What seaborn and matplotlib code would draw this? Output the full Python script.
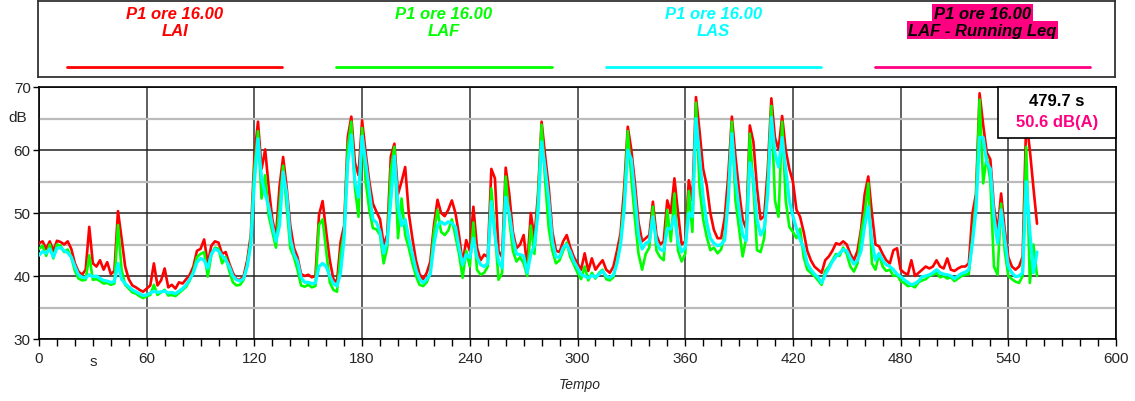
import numpy as np
import pandas as pd
import seaborn as sns
import matplotlib.pyplot as plt
from matplotlib.patches import Rectangle
from matplotlib import transforms

# sample time in seconds (every 2 s)
tempo = np.arange(0, 558, 2)

# LAI (red)
lai = [45.2, 45.5, 44.3, 45.5, 44.0, 45.6, 45.4, 45.0, 45.5, 44.3,
       42.0, 40.7, 40.2, 41.0, 47.8, 42.0, 41.5, 42.5, 41.0, 42.2,
       40.3, 40.8, 50.3, 46.0, 41.5, 39.5, 38.5, 38.2, 37.8, 37.5,
       38.0, 38.5, 42.0, 38.5, 39.3, 41.2, 38.2, 38.6, 38.0, 39.0,
       38.8, 39.5, 40.2, 41.5, 44.0, 44.3, 45.8, 42.0, 44.8, 45.5,
       45.3, 43.5, 43.8, 42.0, 40.5, 39.5, 39.4, 40.0, 42.5, 46.5,
       59.0, 64.5, 57.0, 60.1, 54.0, 49.0, 46.2, 54.2, 58.9, 54.0,
       48.0, 44.5, 43.0, 40.3, 40.0, 40.2, 39.8, 40.0, 49.7, 51.9,
       47.0, 42.5, 39.5, 39.0, 45.4, 48.0, 62.0, 65.3, 58.0, 56.0,
       64.7, 59.5, 55.0, 51.5, 50.2, 49.0, 45.0, 46.5, 59.0, 61.0,
       53.0, 55.0, 57.3, 50.0, 46.0, 42.5, 40.3, 39.5, 40.5, 42.3,
       48.0, 52.1, 50.0, 49.5, 50.5, 52.0, 50.0, 46.5, 42.0, 45.7,
       44.0, 51.0, 44.5, 42.5, 43.4, 43.0, 57.0, 55.5, 44.0, 43.0,
       57.2, 53.0, 47.0, 44.4, 45.0, 46.5, 41.5, 50.0, 46.0, 53.0,
       64.5, 59.0, 54.0, 47.0, 44.0, 43.8, 45.5, 46.5, 44.5, 43.0,
       42.0, 41.0, 43.6, 40.8, 42.8, 41.0, 41.8, 42.5, 41.0, 40.5,
       41.5, 44.0, 46.8, 54.0, 63.7, 60.0, 54.7, 48.5, 45.5, 46.0,
       46.5, 51.8, 46.5, 45.0, 45.5, 52.0, 50.0, 55.5, 50.0, 45.0,
       45.5, 55.2, 52.0, 68.4, 63.0, 57.0, 54.4, 50.0, 47.3, 46.0,
       46.0, 49.2, 56.0, 65.3, 59.0, 53.5, 49.0, 47.5, 63.9, 61.3,
       54.0, 49.0, 49.5, 57.0, 68.2, 62.0, 60.0, 65.4, 60.0, 57.0,
       55.0, 50.5, 49.4, 47.0, 44.0, 42.5, 41.5, 41.0, 40.5, 42.5,
       43.1, 44.0, 45.2, 45.0, 45.5, 45.0, 43.5, 42.5, 44.0, 47.5,
       53.0, 55.8, 50.0, 45.0, 44.7, 43.5, 42.5, 42.0, 44.1, 44.4,
       41.0, 40.5, 40.2, 42.5, 40.0, 40.5, 41.0, 41.5, 41.2, 41.5,
       42.5, 41.5, 41.2, 42.8, 41.0, 40.8, 41.2, 41.5, 41.5, 42.0,
       49.9, 53.0, 69.0, 64.0, 59.6, 58.5, 51.0, 47.0, 53.1, 47.3,
       43.0, 41.5, 41.0, 41.5, 43.1, 65.0, 60.0, 54.0, 48.3]

# LAF (green)
laf = [44.3, 44.8, 43.2, 45.0, 42.8, 45.0, 44.8, 43.8, 44.2, 43.0,
       40.8, 39.6, 39.3, 39.4, 43.3, 39.4, 39.5, 39.2, 38.8, 38.9,
       38.6, 38.8, 48.1, 41.0, 38.6, 38.0, 37.4, 37.2, 36.8, 36.5,
       36.8, 37.0, 38.6, 37.0, 37.4, 37.8, 36.9, 37.0, 36.8, 37.3,
       37.8, 38.3, 39.3, 40.8, 43.0, 43.5, 43.8, 39.9, 43.3, 44.5,
       44.3, 42.0, 43.0, 40.8, 39.0, 38.5, 38.6, 39.4, 41.8, 45.5,
       57.0, 63.0, 52.3, 56.0, 49.5, 47.0, 44.5, 51.2, 57.5, 51.0,
       44.4, 43.0, 41.0, 38.5, 38.3, 38.6, 38.2, 38.4, 48.1, 49.0,
       44.0, 39.0, 37.8, 37.5, 43.5, 47.0, 60.5, 64.5, 54.0, 49.4,
       63.5, 55.0, 50.5, 47.6, 47.4, 46.5, 42.0, 44.5, 57.0, 60.5,
       46.0, 52.3, 46.5, 44.5, 42.0, 40.0, 38.6, 38.4, 39.0, 40.5,
       47.0, 50.5, 47.0, 46.5, 47.2, 49.0, 46.3, 43.5, 39.7, 44.0,
       41.5, 48.5, 41.0, 40.2, 40.5, 41.5, 53.9, 47.0, 39.4, 40.5,
       55.8, 49.0, 44.0, 42.3, 43.0, 42.0, 40.0, 48.0, 43.5, 52.0,
       64.0, 55.0, 47.5, 44.0, 42.0, 42.5, 44.0, 45.3, 43.0, 41.8,
       40.5, 39.5, 41.5, 39.3, 40.5, 39.6, 40.5, 41.0, 39.5, 39.3,
       39.8, 42.3, 45.5, 52.0, 63.0, 55.5, 49.0, 43.5, 41.0, 43.5,
       44.5, 51.0, 44.0, 43.0, 42.5, 50.5, 45.5, 53.1, 44.0, 42.3,
       43.5, 53.5, 47.0, 67.5, 54.0, 49.0, 46.2, 44.1, 44.5, 43.6,
       44.2, 46.5, 53.0, 64.5, 52.0, 47.5, 43.1, 46.0, 62.6, 54.0,
       44.1, 43.8, 46.0, 55.0, 67.0, 52.0, 49.4, 64.5, 52.0, 47.8,
       47.0, 46.0, 47.5, 43.0, 41.0, 40.5, 40.0, 39.3, 38.6, 40.8,
       41.5, 42.5, 43.5, 43.2, 44.5, 43.5, 41.5, 40.7, 42.0, 46.8,
       50.0, 54.7, 42.0, 41.0, 43.5, 41.5, 40.8, 41.0, 40.0, 40.2,
       39.2, 38.9, 38.4, 38.5, 38.2, 39.0, 39.3, 39.5, 40.0, 40.2,
       40.5, 39.8, 40.0, 39.6, 39.8, 39.2, 39.6, 40.0, 40.2, 40.3,
       46.0, 52.0, 68.0, 54.7, 59.0, 55.0, 41.5, 40.2, 51.5, 44.0,
       40.0, 39.5, 39.1, 38.9, 40.0, 60.5, 38.9, 45.0, 40.0]

# LAS (cyan)
las = [43.3, 43.9, 43.6, 44.3, 43.0, 44.4, 44.5, 44.0, 43.7, 43.0,
       41.5, 40.2, 39.8, 39.7, 40.2, 39.9, 40.0, 39.6, 39.3, 39.2,
       39.0, 39.1, 42.0, 39.5, 38.8, 38.3, 37.8, 37.5, 37.2, 36.9,
       37.0, 37.3, 37.6, 37.4, 37.5, 37.6, 37.3, 37.4, 37.2, 37.6,
       38.0, 38.6, 39.5, 40.5, 42.2, 42.8, 42.5, 41.2, 43.5, 44.3,
       44.0, 43.2, 42.6, 41.5, 40.0, 39.4, 39.2, 39.6, 41.5, 45.0,
       55.0, 61.8, 55.5, 53.0, 51.0, 48.0, 45.5, 48.0, 56.5, 53.0,
       46.0, 43.5, 42.3, 39.8, 39.0, 39.0, 38.8, 38.9, 41.5, 42.0,
       41.5, 40.0, 38.8, 38.4, 40.5, 46.0, 58.0, 62.4, 55.0, 52.5,
       62.2, 58.0, 53.5, 49.0, 48.5, 47.0, 43.6, 45.5, 52.0, 59.0,
       51.0, 48.0, 49.0, 46.0, 43.5, 41.0, 39.5, 38.9, 39.5, 40.3,
       45.0, 48.0, 48.6, 48.2, 48.6, 48.4, 47.8, 44.5, 41.8, 43.4,
       42.9, 46.0, 43.0, 41.8, 41.5, 42.0, 51.8, 46.5, 42.3, 41.3,
       52.5, 50.0, 46.0, 43.5, 43.4, 43.2, 40.5, 43.5, 44.8, 50.0,
       61.3, 57.0, 52.0, 45.5, 43.0, 43.0, 44.5, 45.0, 43.8, 42.3,
       41.3, 40.2, 40.0, 39.7, 40.1, 39.8, 40.3, 40.8, 40.0, 39.7,
       40.2, 42.0, 45.0, 50.5, 60.0, 58.5, 52.5, 46.5, 44.3, 45.2,
       45.5, 49.4, 45.5, 44.2, 44.0, 47.5, 47.5, 49.5, 45.5, 43.8,
       44.5, 50.0, 49.4, 65.0, 59.0, 52.5, 48.5, 46.0, 45.2, 44.8,
       45.0, 45.7, 52.0, 62.6, 55.5, 50.5, 46.5, 45.6, 58.0, 55.5,
       49.0, 46.5, 47.5, 53.0, 65.2, 59.5, 57.3, 62.0, 57.0, 52.0,
       49.5, 47.5, 45.8, 44.5, 42.0, 41.0, 40.3, 39.8, 38.9, 40.2,
       41.2, 42.3, 43.1, 43.6, 44.2, 44.0, 42.8, 41.9, 42.5, 44.0,
       48.0, 51.0, 45.5, 42.5, 43.6, 42.5, 41.8, 41.5, 41.0, 40.3,
       39.9, 39.4, 39.0, 38.6, 38.8, 39.2, 39.9, 40.0, 40.2, 40.5,
       41.0, 40.5, 40.3, 40.2, 40.0, 39.6, 40.0, 40.4, 40.6, 41.0,
       45.2, 50.5, 62.0, 62.0, 58.0, 57.0, 49.5, 45.2, 50.5, 46.0,
       41.5, 40.5, 39.9, 40.0, 40.5, 55.0, 47.0, 40.5, 43.8]

serie_names = ["LAI", "LAF", "LAS", "LAF - Running Leq"]
colori = ["#FF0000", "#00FF00", "#00FFFF", "#FF0080"]
spessori = [1.9, 1.9, 2.3]

df = pd.DataFrame({
    "t": np.tile(tempo, 3),
    "dB": np.concatenate([lai, laf, las]),
    "serie": np.repeat(serie_names[:3], len(tempo)),
})

sns.set_theme(style="white")
plt.rcParams["font.family"] = ["Liberation Sans", "DejaVu Sans"]

fig = plt.figure(figsize=(11.35, 4.02), dpi=100)
ax = fig.add_axes([39 / 1135, 1 - 340 / 402, 1077 / 1135, 252 / 402])

for nome, col, lw in zip(serie_names[:3], colori[:3], spessori):
    sns.lineplot(data=df[df["serie"] == nome], x="t", y="dB", color=col,
                 linewidth=lw, ax=ax, legend=False, zorder=3)

ax.set_xlim(0, 600)
ax.set_ylim(30, 70)
ax.set_xticks(range(0, 601, 60))
ax.set_xticks(range(0, 601, 10), minor=True)
ax.set_yticks(range(30, 71, 10))
ax.set_yticks(range(35, 70, 10), minor=True)
ax.grid(which="major", axis="x", color="#333333", linewidth=1.1, zorder=1)
ax.grid(which="major", axis="y", color="#222222", linewidth=1.1, zorder=1)
ax.grid(which="minor", axis="y", color="#BBBBBB", linewidth=1.6, zorder=1)
ax.tick_params(axis="x", which="both", direction="out", length=5, width=1,
               color="black", bottom=True, labelsize=11, pad=4)
ax.tick_params(axis="y", which="major", direction="out", length=4, width=1,
               color="black", left=True, labelsize=11, pad=2)
ax.tick_params(axis="y", which="minor", left=False)
for sp in ax.spines.values():
    sp.set_color("black")
    sp.set_linewidth(1.2)

ax.set_xlabel("Tempo", fontsize=10, style="italic")
ax.xaxis.set_label_coords((580 - 39) / 1077, -(385 - 340) / 252)
ax.xaxis.label.set_va("center")
ax.set_ylabel("")

# unit labels in place of tick labels
trx = transforms.blended_transform_factory(ax.transData, ax.transAxes)
ax.text(30, -(362 - 340) / 252, "s", transform=trx, ha="center", va="center", fontsize=11)
try_y = transforms.blended_transform_factory(ax.transAxes, ax.transData)
ax.text(-0.011, 65.2, "dB", transform=try_y, ha="right", va="center", fontsize=11)

# cursor box
x0 = (998 - 39) / 1077
h = (139 - 88) / 252
ax.add_patch(Rectangle((x0, 1 - h), 1 - x0, h, transform=ax.transAxes,
                       facecolor="white", edgecolor="black", linewidth=1.2,
                       zorder=5, clip_on=False))
xc = x0 + (1 - x0) / 2
ax.text(xc, 1 - 13 / 252, "479.7 s", transform=ax.transAxes, ha="center", va="center",
        fontsize=12, fontweight="bold", color="black", zorder=6)
ax.text(xc, 1 - 35 / 252, "50.6 dB(A)", transform=ax.transAxes, ha="center", va="center",
        fontsize=12, fontweight="bold", color="#FF0080", zorder=6)

# legend panel on top
lg = fig.add_axes([38 / 1135, 1 - 78 / 402, 1077 / 1135, 76 / 402])
lg.set_xlim(0, 1)
lg.set_ylim(0, 1)
lg.set_xticks([])
lg.set_yticks([])
for sp in lg.spines.values():
    sp.set_color("#333333")
    sp.set_linewidth(1.3)
for i, (nome, col) in enumerate(zip(serie_names, colori)):
    cx = 0.127 + 0.25 * i
    lg.plot([cx - 0.1, cx + 0.1], [0.13, 0.13], color=col, linewidth=2)
    if i < 3:
        lg.text(cx, 0.842, "P1 ore 16.00", color=col, ha="center", va="center",
                fontsize=12, fontweight="bold", style="italic")
        lg.text(cx, 0.618, nome, color=col, ha="center", va="center",
                fontsize=12, fontweight="bold", style="italic")
    else:
        box = dict(facecolor=col, edgecolor="none", pad=1.2)
        lg.text(cx, 0.842, "P1 ore 16.00", color="black", ha="center", va="center",
                fontsize=12, fontweight="bold", style="italic", bbox=box)
        lg.text(cx, 0.618, nome, color="black", ha="center", va="center",
                fontsize=12, fontweight="bold", style="italic", bbox=box)

fig.savefig("out.png", dpi=100)
